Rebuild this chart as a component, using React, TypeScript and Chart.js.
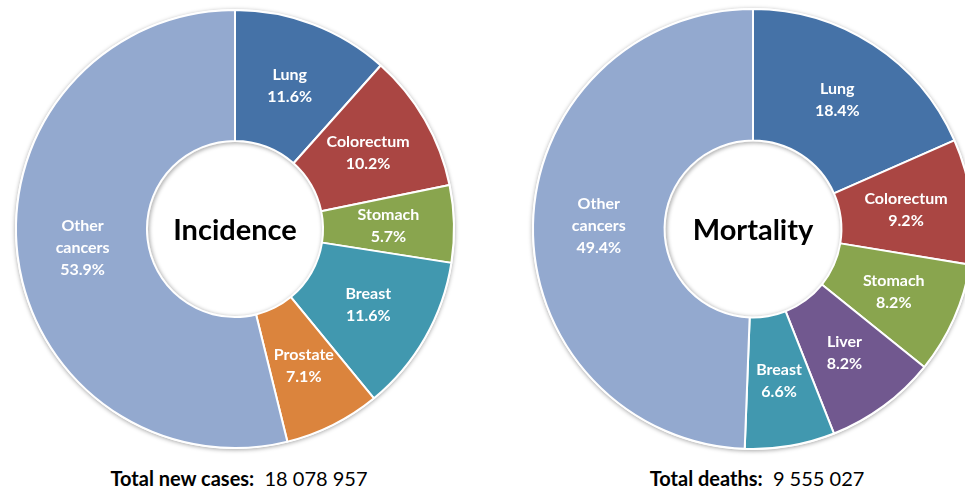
import React, { useEffect, useRef } from "react";
import { Chart, registerables } from "chart.js";

Chart.register(...registerables);

const incidenceLabels = ["Lung", "Colorectum", "Stomach", "Breast", "Prostate", "Other\ncancers"];
const incidenceValues = [11.6, 10.2, 5.7, 11.6, 7.1, 53.9];
const incidenceColors = ["#4572A7", "#AA4643", "#89A54E", "#4198AF", "#DB843D", "#93A9CF"];

const mortalityLabels = ["Lung", "Colorectum", "Stomach", "Liver", "Breast", "Other\ncancers"];
const mortalityValues = [18.4, 9.2, 8.2, 8.2, 6.6, 49.4];
const mortalityColors = ["#4572A7", "#AA4643", "#89A54E", "#71588F", "#4198AF", "#93A9CF"];

const FONT = "Lato, 'Open Sans', sans-serif";

const decorPlugin = {
  id: "decor",
  beforeDatasetsDraw(chart: any) {
    const meta = chart.getDatasetMeta(0);
    const arc = meta.data[0];
    if (!arc) return;
    const { x, y, outerRadius } = arc.getProps(["x", "y", "outerRadius"], true);
    const ctx = chart.ctx;
    ctx.save();
    ctx.shadowColor = "rgba(0,0,0,0.35)";
    ctx.shadowBlur = 4;
    ctx.shadowOffsetX = 0;
    ctx.shadowOffsetY = 1;
    ctx.fillStyle = "#ffffff";
    ctx.beginPath();
    ctx.arc(x, y, outerRadius + 1, 0, Math.PI * 2);
    ctx.fill();
    ctx.restore();
  },
  afterDatasetsDraw(chart: any, _args: any, opts: any) {
    const meta = chart.getDatasetMeta(0);
    const ctx = chart.ctx;
    const first = meta.data[0];
    if (!first) return;
    const { x, y, innerRadius } = first.getProps(["x", "y", "innerRadius"], true);
    // inner shadow of hole
    ctx.save();
    ctx.beginPath();
    ctx.arc(x, y, innerRadius - 1, 0, Math.PI * 2);
    ctx.clip();
    ctx.shadowColor = "rgba(0,0,0,0.4)";
    ctx.shadowBlur = 4;
    ctx.shadowOffsetX = 1;
    ctx.shadowOffsetY = 1;
    ctx.strokeStyle = "#ffffff";
    ctx.lineWidth = 4;
    ctx.beginPath();
    ctx.arc(x, y, innerRadius + 1, 0, Math.PI * 2);
    ctx.stroke();
    ctx.restore();

    // slice labels
    const ds = chart.data.datasets[0];
    ctx.save();
    ctx.fillStyle = "#ffffff";
    ctx.textAlign = "center";
    ctx.textBaseline = "middle";
    ctx.font = `bold 16px ${FONT}`;
    meta.data.forEach((el: any, i: number) => {
      const p = el.tooltipPosition(true);
      const lines = String(chart.data.labels[i]).split("\n");
      lines.push(ds.data[i].toFixed(1) + "%");
      const lh = 22;
      const startY = p.y - ((lines.length - 1) * lh) / 2;
      lines.forEach((t: string, k: number) => {
        ctx.fillText(t, p.x, startY + k * lh);
      });
    });
    // center title
    ctx.fillStyle = "#000000";
    ctx.font = `bold 29px ${FONT}`;
    ctx.fillText(opts.title, x, y + 2);
    ctx.restore();
  },
};

function Donut(props: {
  labels: string[];
  values: number[];
  colors: string[];
  title: string;
  radius: number;
  left: number;
}) {
  const ref = useRef<HTMLCanvasElement | null>(null);
  useEffect(() => {
    if (!ref.current) return;
    const chart = new Chart(ref.current, {
      type: "doughnut",
      data: {
        labels: props.labels,
        datasets: [
          {
            data: props.values,
            backgroundColor: props.colors,
            borderColor: "#ffffff",
            borderWidth: 2,
          },
        ],
      },
      options: {
        animation: false,
        responsive: false,
        radius: props.radius,
        cutout: "40.2%",
        rotation: 0,
        layout: { padding: 0 },
        plugins: {
          legend: { display: false },
          tooltip: { enabled: false },
          decor: { title: props.title },
        } as any,
      },
      plugins: [decorPlugin],
    });
    return () => chart.destroy();
  }, []);
  return (
    <canvas
      ref={ref}
      width={460}
      height={458}
      style={{ position: "absolute", left: props.left, top: 0, width: 460, height: 458 }}
    />
  );
}

const captionStyle: React.CSSProperties = {
  position: "absolute",
  top: 466,
  width: 460,
  textAlign: "center",
  fontFamily: FONT,
  fontSize: 20,
  color: "#000",
  whiteSpace: "pre",
};

export default function App() {
  return (
    <div
      style={{
        position: "fixed",
        left: 0,
        top: 0,
        width: 965,
        height: 494,
        overflow: "hidden",
        background: "#ffffff",
      }}
    >
      <Donut
        labels={incidenceLabels}
        values={incidenceValues}
        colors={incidenceColors}
        title="Incidence"
        radius={219}
        left={5}
      />
      <Donut
        labels={mortalityLabels}
        values={mortalityValues}
        colors={mortalityColors}
        title="Mortality"
        radius={220}
        left={523}
      />
      <div style={{ ...captionStyle, left: 9 }}>
        <b>Total new cases:</b>{"  18 078 957"}
      </div>
      <div style={{ ...captionStyle, left: 527 }}>
        <b>Total deaths:</b>{"  9 555 027"}
      </div>
    </div>
  );
}
